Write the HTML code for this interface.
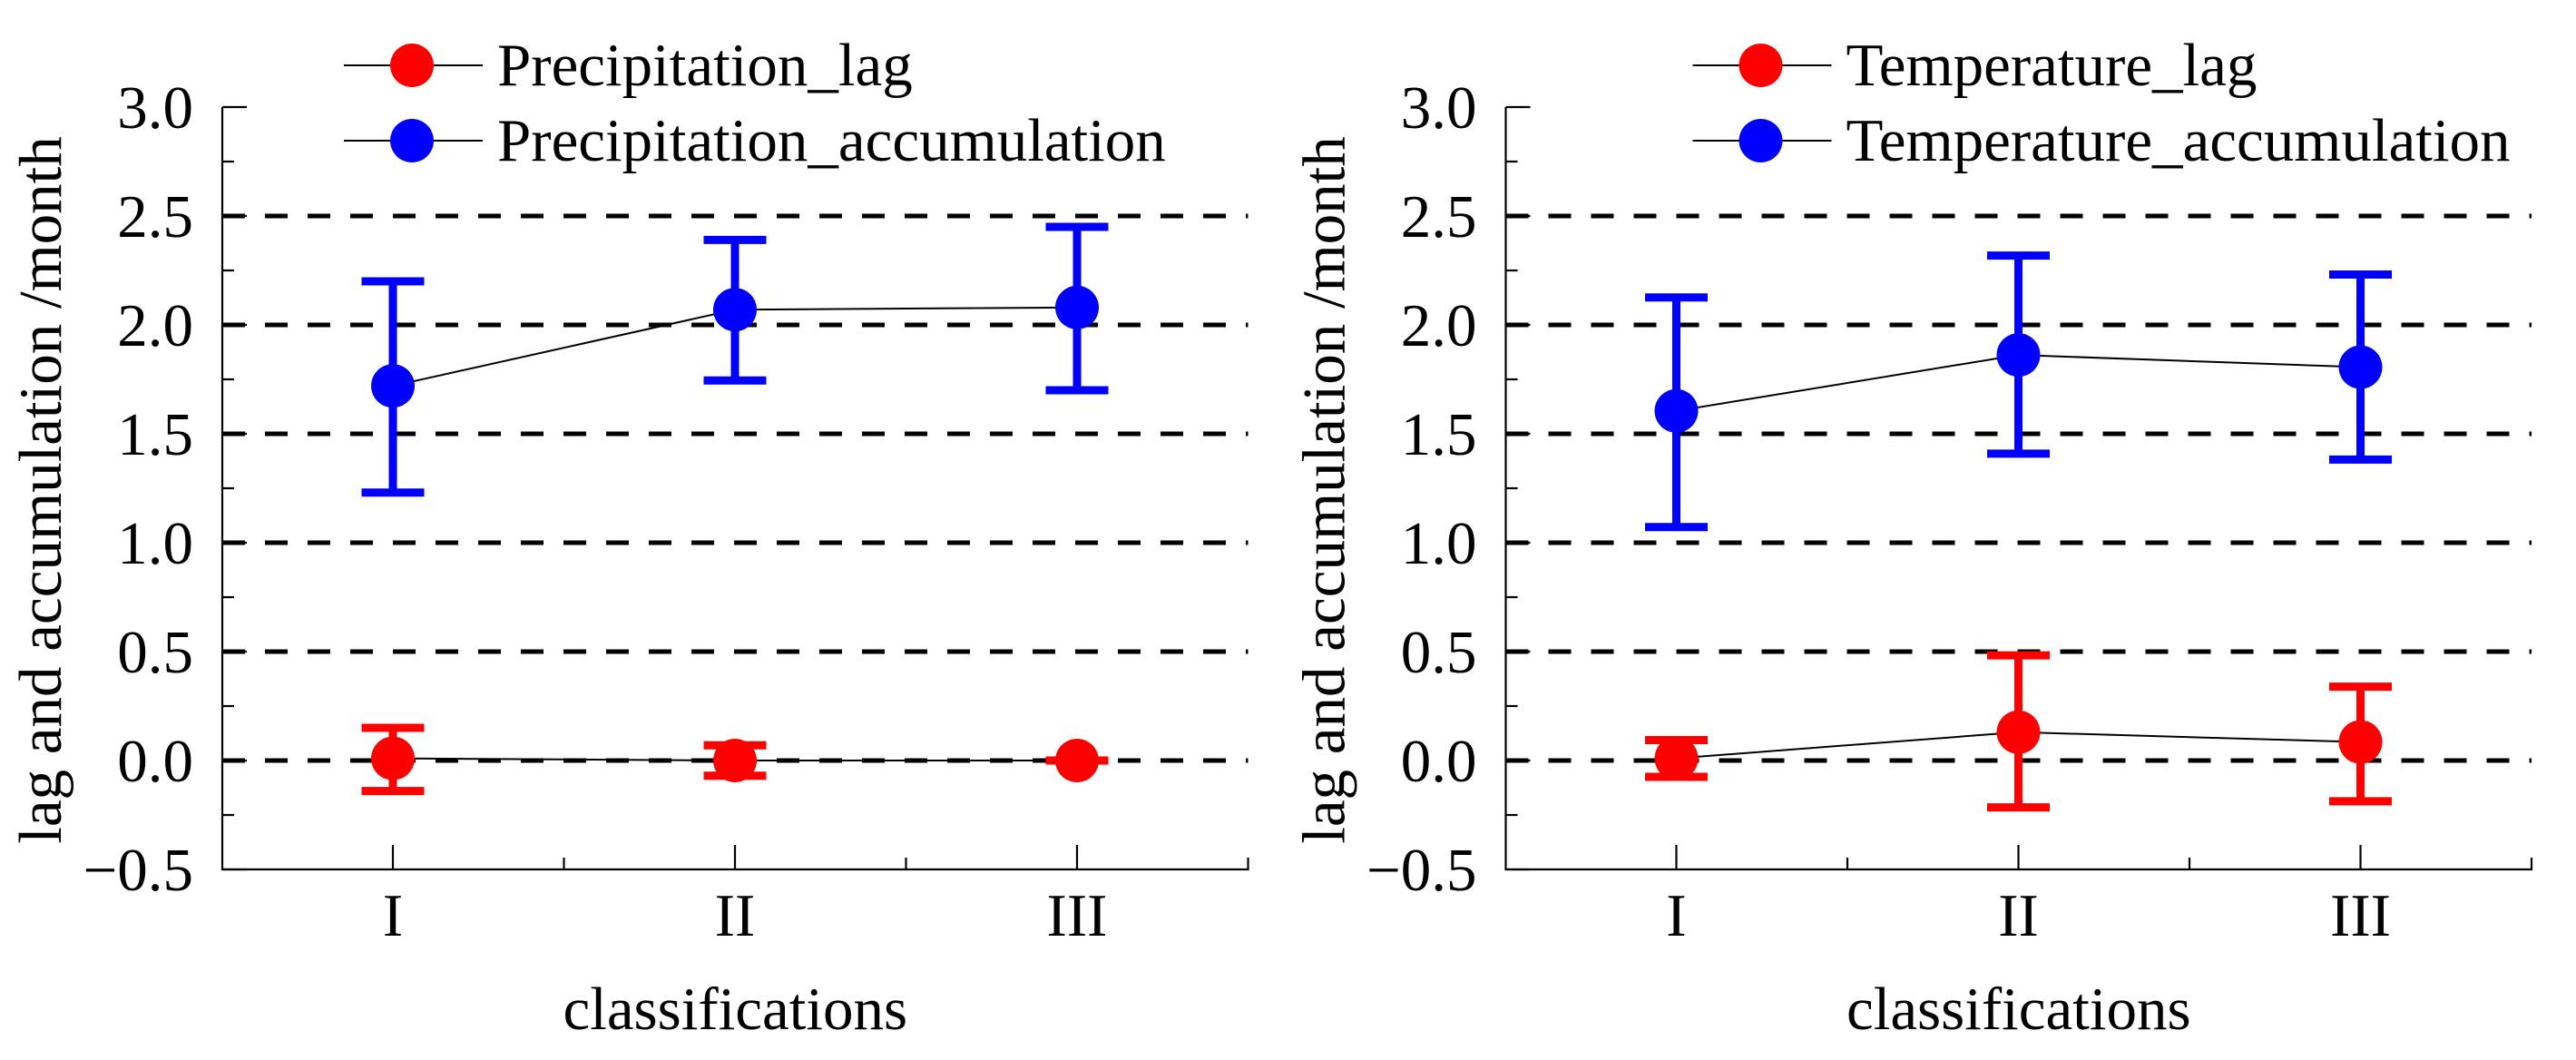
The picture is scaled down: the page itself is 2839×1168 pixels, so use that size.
<!DOCTYPE html>
<html><head><meta charset="utf-8"><style>
html,body{margin:0;padding:0;background:#fff;}
svg{display:block;font-family:"Liberation Serif",serif;}
svg text{font-family:"Liberation Serif",serif;}
</style></head><body>
<svg id="chart" width="2839" height="1168" viewBox="0 0 2839 1168" xmlns="http://www.w3.org/2000/svg"></svg>
<script>
const categories = ["I","II","III"];
const yTicks = [-0.5,0.0,0.5,1.0,1.5,2.0,2.5,3.0];
const yTickLabels = ["\u22120.5","0.0","0.5","1.0","1.5","2.0","2.5","3.0"];
const gridValues = [0.0,0.5,1.0,1.5,2.0,2.5];
const precipLag = [0.01,0.00,0.00];
const precipLagLow = [-0.14,-0.07,0.00];
const precipLagHigh = [0.15,0.07,0.00];
const precipAcc = [1.72,2.07,2.08];
const precipAccLow = [1.23,1.745,1.70];
const precipAccHigh = [2.20,2.39,2.45];
const tempLag = [0.01,0.13,0.085];
const tempLagLow = [-0.075,-0.215,-0.187];
const tempLagHigh = [0.094,0.483,0.339];
const tempAcc = [1.605,1.862,1.806];
const tempAccLow = [1.072,1.409,1.382];
const tempAccHigh = [2.126,2.318,2.231];

const NS = "http://www.w3.org/2000/svg";
const svg = document.getElementById("chart");
const FS = 67;
const FF = '"Liberation Serif", serif';
function mk(tag, attrs, parent){const e=document.createElementNS(NS,tag);for(const k in attrs)e.setAttribute(k,attrs[k]);if(tag==="text")e.setAttribute("font-family",FF);(parent||svg).appendChild(e);return e;}

function panel(ox, lagName, accName, lag, lagLo, lagHi, acc, accLo, accHi, key){
  const g = mk("g",{});
  
  
  const left = 245+ox, right = 1375.5+ox;
  const yS = v => 838 - 240*v;
  const xS = i => left + 188 + 377*i;
  gridValues.forEach(v=>{
    const l = mk("line",{x1:left,x2:right,y1:yS(v),y2:yS(v),stroke:"#000","stroke-width":5,"stroke-dasharray":"25 22"},g);
    
    
  });
  const ax = mk("path",{d:`M${left},${yS(3)} L${left},${yS(-0.5)} L${right},${yS(-0.5)} L${right},${yS(-0.5)-13}`,fill:"none",stroke:"#000","stroke-width":2.2},g);
  
  
  yTicks.forEach((v,i)=>{
    const t = mk("line",{x1:left,x2:left+27,y1:yS(v),y2:yS(v),stroke:"#000","stroke-width":2.2},g);
    
    
    if(i<yTicks.length-1){
      const m = mk("line",{x1:left,x2:left+13,y1:yS(v+0.25),y2:yS(v+0.25),stroke:"#000","stroke-width":2.2},g);
      
      
    }
    const tl = mk("text",{x:left-32,y:yS(v)+23,"text-anchor":"end","font-size":FS},g);
    tl.textContent = yTickLabels[i];
    
    
  });
  categories.forEach((c,i)=>{
    const t = mk("line",{x1:xS(i),x2:xS(i),y1:yS(-0.5),y2:yS(-0.5)-27,stroke:"#000","stroke-width":2.2},g);
    
    
    if(i<categories.length-1){
      const m = mk("line",{x1:xS(i)+188.5,x2:xS(i)+188.5,y1:yS(-0.5),y2:yS(-0.5)-13,stroke:"#000","stroke-width":2.2},g);
      
      
    }
    const tl = mk("text",{x:xS(i),y:1031,"text-anchor":"middle","font-size":FS},g);
    tl.textContent = c;
    
    
  });
  const xt = mk("text",{x:(left+right)/2,y:1134,"text-anchor":"middle","font-size":FS},g);
  xt.textContent = "classifications";
  
  
  const yt = mk("text",{x:0,y:0,"text-anchor":"middle","font-size":FS,transform:`translate(${67+ox},540) rotate(-90)`},g);
  yt.textContent = "lag and accumulation /month";
  
  

  function series(vals, lo, hi, color, name){
    const sg = mk("g",{},g);
    
    
    const line = mk("polyline",{points:vals.map((v,i)=>xS(i)+","+yS(v)).join(" "),fill:"none",stroke:"#000","stroke-width":2},sg);
    
    
    vals.forEach((v,i)=>{
      const x=xS(i);
      const eb = mk("path",{d:`M${x},${yS(hi[i])} L${x},${yS(lo[i])} M${x-34.5},${yS(hi[i])} L${x+34.5},${yS(hi[i])} M${x-34.5},${yS(lo[i])} L${x+34.5},${yS(lo[i])}`,stroke:color,"stroke-width":9,fill:"none"},sg);
      
      
      const c = mk("circle",{cx:x,cy:yS(v),r:24,fill:color},sg);
      
      
    });
  }
  series(acc, accLo, accHi, "#0000ff", key+"-accumulation");
  series(lag, lagLo, lagHi, "#ff0000", key+"-lag");

  const lx = ox + (key==="temperature" ? 72 : 0);
  [[lagName,"#ff0000",72,94],[accName,"#0000ff",155,177]].forEach(([txt,col,cy,by])=>{
    const lg = mk("g",{},g);
    
    
    mk("line",{x1:379+lx,x2:532+lx,y1:cy,y2:cy,stroke:"#000","stroke-width":2},lg);
    mk("circle",{cx:454+lx,cy:cy,r:24,fill:col},lg);
    const t = mk("text",{x:548+lx,y:by,"font-size":FS},lg);
    t.textContent = txt;
  });
}
panel(0,"Precipitation_lag","Precipitation_accumulation",precipLag,precipLagLow,precipLagHigh,precipAcc,precipAccLow,precipAccHigh,"precipitation");
panel(1414.5,"Temperature_lag","Temperature_accumulation",tempLag,tempLagLow,tempLagHigh,tempAcc,tempAccLow,tempAccHigh,"temperature");
</script>
</body></html>
